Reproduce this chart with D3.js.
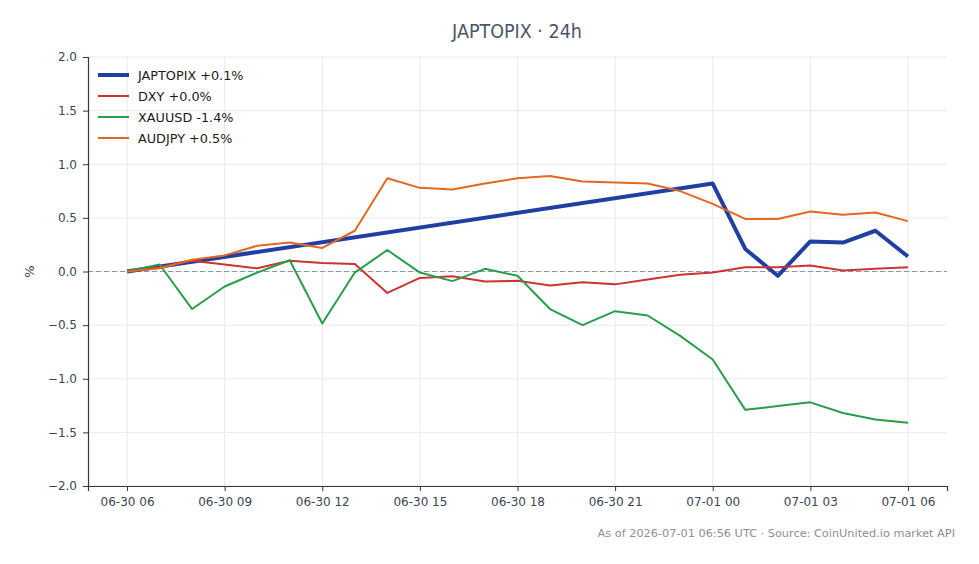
<!DOCTYPE html>
<html lang="en">
<head>
  <meta charset="UTF-8">
  <title>JAPTOPIX 24h</title>
  <style>
    body { margin: 0; background: #fff; }
    svg text { font-family: "DejaVu Sans", sans-serif; }
  </style>
</head>
<body>
  <svg id="chart" width="979" height="564"></svg>
  <script src="https://cdn.jsdelivr.net/npm/d3@7"></script>
  <script>
    // hours since 2026-06-30 06:00 UTC
    var hours = d3.range(0, 25);
    var startTime = Date.UTC(2026, 5, 30, 6);

    // JAPTOPIX has a gap between 06-30 06 and 07-01 00
    var japtopixHours = [0, 18, 19, 20, 21, 22, 23, 24];
    var japtopix = [0.0, 0.82, 0.21, -0.04, 0.28, 0.27, 0.38, 0.14];

    var dxy = [0.0, 0.04, 0.10, 0.065, 0.03, 0.10, 0.08, 0.07, -0.20, -0.06, -0.045, -0.093, -0.087,
               -0.13, -0.10, -0.12, -0.075, -0.03, -0.01, 0.04, 0.04, 0.055, 0.01, 0.025, 0.04];
    var xauusd = [0.0, 0.065, -0.35, -0.14, -0.01, 0.105, -0.485, -0.01, 0.20, -0.01, -0.09, 0.025, -0.04,
                  -0.35, -0.50, -0.37, -0.41, -0.60, -0.82, -1.29, -1.255, -1.22, -1.32, -1.38, -1.41];
    var audjpy = [0.0, 0.03, 0.11, 0.15, 0.24, 0.27, 0.22, 0.38, 0.87, 0.78, 0.765, 0.82, 0.87,
                  0.89, 0.84, 0.83, 0.82, 0.75, 0.63, 0.49, 0.49, 0.56, 0.53, 0.55, 0.47];

    var seriesNames = ["JAPTOPIX +0.1%", "DXY +0.0%", "XAUUSD -1.4%", "AUDJPY +0.5%"];
    var seriesColors = ["#1f3fa3", "#cc3333", "#2a9d4a", "#e0691f"];
    var seriesWidths = [4, 2, 2, 2];

    var yTicks = [-2.0, -1.5, -1.0, -0.5, 0.0, 0.5, 1.0, 1.5, 2.0];
    var xTickHours = [0, 3, 6, 9, 12, 15, 18, 21, 24];

    var margin = {left: 88, right: 32, top: 57, bottom: 78};
    var W = 979, H = 564;
    var svg = d3.select("#chart");

    var toDate = h => new Date(startTime + h * 3600000);

    var x = d3.scaleUtc()
      .domain([toDate(-1.2), toDate(25.2)])
      .range([margin.left, W - margin.right]);
    var y = d3.scaleLinear()
      .domain([-2, 2])
      .range([H - margin.bottom, margin.top]);

    // grid
    svg.append("g")
      .selectAll("line.gx")
      .data(xTickHours)
      .join("line")
      .attr("x1", d => x(toDate(d))).attr("x2", d => x(toDate(d)))
      .attr("y1", margin.top).attr("y2", H - margin.bottom)
      .attr("stroke", "#e6e9ee").attr("stroke-width", 1);
    svg.append("g")
      .selectAll("line.gy")
      .data(yTicks)
      .join("line")
      .attr("x1", margin.left).attr("x2", W - margin.right)
      .attr("y1", d => y(d)).attr("y2", d => y(d))
      .attr("stroke", "#e6e9ee").attr("stroke-width", 1);

    // zero line
    svg.append("line")
      .attr("x1", margin.left).attr("x2", W - margin.right)
      .attr("y1", y(0)).attr("y2", y(0))
      .attr("stroke", "#8a97a8").attr("stroke-width", 1)
      .attr("stroke-dasharray", "5,3");

    // axes
    var fmt = d3.utcFormat("%m-%d %H");
    var xAxis = svg.append("g")
      .attr("transform", "translate(0," + (H - margin.bottom) + ")")
      .call(d3.axisBottom(x).tickValues(xTickHours.map(toDate)).tickFormat(fmt).tickSize(5).tickPadding(6));
    var yAxis = svg.append("g")
      .attr("transform", "translate(" + margin.left + ",0)")
      .call(d3.axisLeft(y).tickValues(yTicks).tickFormat(d => d3.format(".1f")(d).replace("-", "\u2212")).tickSize(5).tickPadding(6));

    [xAxis, yAxis].forEach(function(a) {
      a.select(".domain").attr("stroke", "#2d3748").attr("stroke-width", 1.2);
      a.selectAll(".tick line").attr("stroke", "#2d3748");
      a.selectAll(".tick text").attr("fill", "#3a4556").style("font-size", "12px")
        .style("font-family", "'DejaVu Sans', sans-serif");
    });

    svg.append("text")
      .attr("transform", "translate(34," + y(0) + ") rotate(-90)")
      .attr("text-anchor", "middle")
      .attr("fill", "#3a4556")
      .style("font-size", "13px")
      .text("%");

    // lines
    var line = d3.line()
      .x(d => x(toDate(d[0])))
      .y(d => y(d[1]));

    var seriesData = [
      d3.zip(japtopixHours, japtopix),
      d3.zip(hours, dxy),
      d3.zip(hours, xauusd),
      d3.zip(hours, audjpy)
    ];
    seriesData.forEach(function(data, i) {
      svg.append("path")
        .datum(data)
        .attr("d", line)
        .attr("fill", "none")
        .attr("stroke", seriesColors[i])
        .attr("stroke-width", seriesWidths[i])
        .attr("stroke-linejoin", "round");
    });

    // legend
    var legend = svg.append("g").attr("transform", "translate(98,75)");
    seriesNames.forEach(function(name, i) {
      var g = legend.append("g").attr("transform", "translate(0," + (i * 21) + ")");
      g.append("line")
        .attr("x1", 0).attr("x2", 31).attr("y1", 0).attr("y2", 0)
        .attr("stroke", seriesColors[i]).attr("stroke-width", seriesWidths[i]);
      g.append("text")
        .attr("x", 40).attr("y", 4.5)
        .attr("fill", "#1a1a1a")
        .style("font-size", "12.8px")
        .text(name);
    });

    // title & footer
    svg.append("text")
      .attr("x", 517).attr("y", 38)
      .attr("text-anchor", "middle")
      .attr("fill", "#4a5568")
      .style("font-size", "19.5px")
      .style("font-family", "'Liberation Sans Narrow', 'DejaVu Sans Condensed', sans-serif")
      .text("JAPTOPIX \u00b7 24h");

    svg.append("text")
      .attr("x", 955).attr("y", 537)
      .attr("text-anchor", "end")
      .attr("fill", "#8a8f99")
      .style("font-size", "11.3px")
      .text("As of 2026-07-01 06:56 UTC \u00b7 Source: CoinUnited.io market API");
  </script>
</body>
</html>
